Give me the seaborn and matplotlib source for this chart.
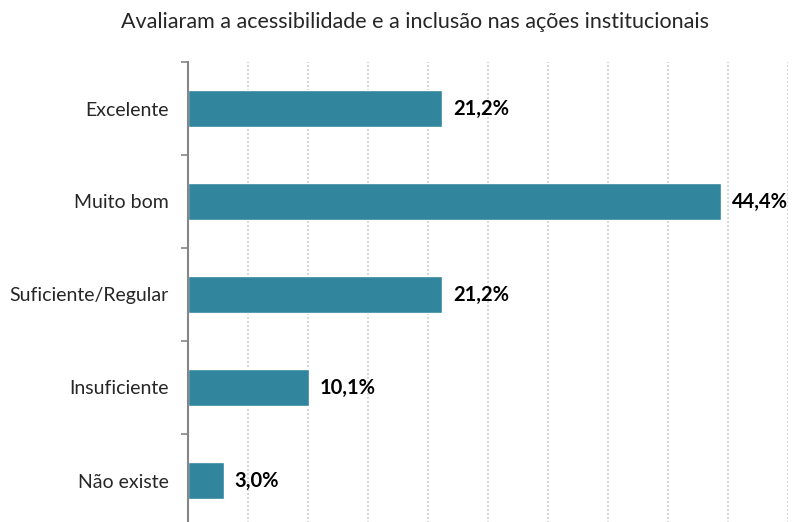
import matplotlib
matplotlib.use("Agg")
import matplotlib.pyplot as plt
import seaborn as sns
import pandas as pd
import numpy as np

# data
categorias = ["Excelente", "Muito bom", "Suficiente/Regular", "Insuficiente", "Não existe"]
percentuais = [21.2, 44.4, 21.2, 10.1, 3.0]
rotulos = ["21,2%", "44,4%", "21,2%", "10,1%", "3,0%"]

df = pd.DataFrame({"categoria": categorias, "pct": percentuais})

sns.set_style("white")
plt.rcParams["font.family"] = ["Lato", "DejaVu Sans"]

fig = plt.figure(figsize=(7.92, 5.22), dpi=100)
ax = fig.add_axes([188 / 792, -5 / 522, 600 / 792, 465 / 522])

sns.barplot(data=df, x="pct", y="categoria", orient="h", color="#31859C",
            saturation=1, width=0.39, ax=ax)

ax.set_xlim(0, 50)
ax.set_ylim(4.5, -0.5)

# dotted vertical gridlines
for gx in np.arange(5, 51, 5):
    ax.axvline(gx, color="#D0D0D0", linestyle=(0, (1.2, 1.2)), linewidth=1.2, zorder=0)

for i, (v, txt) in enumerate(zip(percentuais, rotulos)):
    ax.text(v + 0.9, i, txt, va="center", ha="left", fontsize=14.5,
            fontweight="bold", color="black")

ax.set_xlabel("")
ax.set_ylabel("")
ax.set_xticks([])
ax.tick_params(axis="y", which="major", left=False, length=0, labelsize=14, pad=14)
ax.set_yticks(np.arange(-0.5, 5, 1), minor=True)
ax.tick_params(axis="y", which="minor", left=True, length=5, width=1.2,
               color="#868686", direction="out")

for s in ["top", "right", "bottom"]:
    ax.spines[s].set_visible(False)
ax.spines["left"].set_color("#868686")
ax.spines["left"].set_linewidth(1.5)

fig.text(0.524, 0.957, "Avaliaram a acessibilidade e a inclusão nas ações institucionais",
         ha="center", va="center", fontsize=15.5)

fig.savefig("out.png", dpi=100)
